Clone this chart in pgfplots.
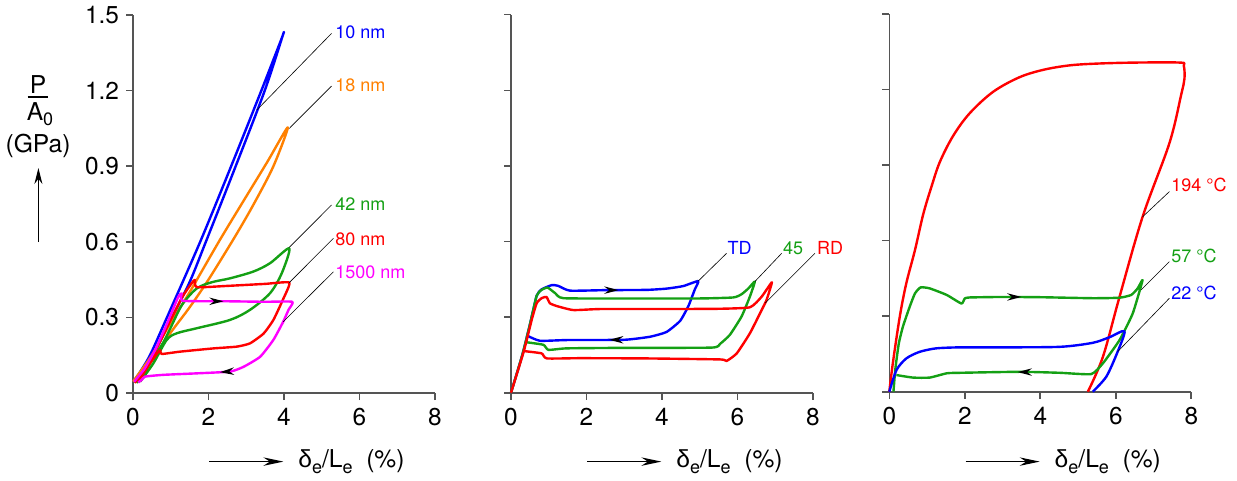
\documentclass[border=0pt]{standalone}
\usepackage{pgfplots}
\pgfplotsset{compat=1.18}
\usepackage{fontspec}
\setmainfont{TeX Gyre Heros}
\newfontfamily\grk{Liberation Sans}
\usetikzlibrary{arrows.meta}

\definecolor{cblue}{RGB}{0,0,255}
\definecolor{corange}{RGB}{255,128,0}
\definecolor{cgreen}{RGB}{20,160,20}
\definecolor{cred}{RGB}{255,0,0}
\definecolor{cmag}{RGB}{255,0,255}
\definecolor{axgray}{RGB}{85,85,85}

\tikzset{
 lbl/.style={anchor=west, inner sep=0pt, font=\fontsize{9}{10}\selectfont},
 ldr/.style={line width=0.3pt, black},
 arr/.style={-{Stealth[length=7pt,width=3.6pt,black]}},
}
\pgfplotsset{
 panel/.style={
   scale only axis, width=151pt, height=189pt,
   xmin=0,xmax=8,ymin=0,ymax=1.5,
   axis lines=left, axis line style={-, axgray, line width=0.8pt},
   xtick={0,2,4,6,8}, xticklabels={0,2,4,6,8},
   ytick={0,0.3,0.6,0.9,1.2,1.5},
   tick align=outside, major tick length=3.5pt,
   tick style={axgray, line width=0.8pt},
   tick label style={font=\fontsize{12.2}{14}\selectfont},
   xticklabel style={yshift=-0.5pt},
   clip=false, anchor=south west,
   every axis plot/.append style={line width=1.2pt, line join=round, mark=none, smooth, tension=0.3},
 },
}
\newcommand{\xlab}{{\grk δ}\raisebox{-0.4ex}{\fontsize{9}{9}\selectfont e}/L\raisebox{-0.4ex}{\fontsize{9}{9}\selectfont e}\ \ (\%)}

\begin{document}
\begin{tikzpicture}
% ---------------- left panel ----------------
\begin{axis}[panel, at={(66.5pt,-196.5pt)}, yticklabels={0,0.3,0.6,0.9,1.2,1.5}]
\addplot[cblue, tension=0.5] coordinates {(0.02,0.045)(0.3,0.095)(0.6,0.17)(1.0,0.29)(1.5,0.44)(1.93,0.6)(2.72,0.9)(3.49,1.2)(3.97,1.42)
 (3.92,1.40)(3.40,1.2)(2.60,0.9)(1.78,0.6)(0.9,0.3)(0.45,0.15)(0.15,0.075)(0.0,0.045)};
\addplot[corange, tension=0.5] coordinates {(0.0,0.045)(0.5,0.15)(1.0,0.28)(1.5,0.40)(2.3,0.607)(3.0,0.78)(3.55,0.915)(4.1,1.054)
 (3.72,0.9)(3.2,0.75)(2.7,0.62)(2.0,0.45)(1.5,0.34)(1.0,0.24)(0.5,0.13)(0.15,0.05)};
\addplot[cgreen, tension=0.5] coordinates {(0.1,0.04)(0.5,0.13)(0.8,0.2)(1.0,0.26)(1.3,0.35)(1.69,0.415)(2.1,0.44)(2.57,0.455)(3.19,0.482)(3.63,0.515)(4.14,0.574)
 (3.94,0.475)(3.63,0.396)(3.1,0.33)(2.57,0.29)(1.69,0.257)(1.16,0.237)(0.89,0.21)(0.54,0.118)(0.19,0.045)};
\addplot[cred] coordinates {(0.05,0.04)(0.5,0.14)(1.0,0.29)(1.3,0.38)(1.55,0.435)(1.64,0.449)(1.69,0.42)(2.5,0.425)(3.5,0.433)(4.14,0.438)
 (3.97,0.37)(3.72,0.29)(3.46,0.236)(3.1,0.197)(2.75,0.184)(2.13,0.177)(1.24,0.164)(0.76,0.155)(0.71,0.17)(0.45,0.118)(0.14,0.045)};
\addplot[cmag] coordinates {(0.03,0.045)(0.3,0.095)(0.6,0.175)(0.9,0.275)(1.2,0.382)(1.29,0.395)(1.32,0.366)(2.5,0.364)(3.5,0.362)(4.22,0.362)
 (4.12,0.33)(3.98,0.283)(3.72,0.211)(3.37,0.144)(2.93,0.104)(2.57,0.085)(1.69,0.078)(0.8,0.072)(0.32,0.065)(0.23,0.052)(0.14,0.042)};
\addplot[cmag, arr] coordinates {(1.95,0.364)(2.4,0.364)};
\addplot[cmag, arr] coordinates {(2.62,0.086)(2.3,0.0825)};
\draw[ldr] (axis cs:5.26,1.427) -- (axis cs:3.28,1.123);
\node[lbl, text=cblue] at (axis cs:5.35,1.43) {10 nm};
\draw[ldr] (axis cs:5.26,1.218) -- (axis cs:4.14,1.05);
\node[lbl, text=corange] at (axis cs:5.35,1.222) {18 nm};
\draw[ldr] (axis cs:5.26,0.746) -- (axis cs:4.14,0.578);
\node[lbl, text=cgreen] at (axis cs:5.35,0.75) {42 nm};
\draw[ldr] (axis cs:5.31,0.614) -- (axis cs:4.14,0.438);
\node[lbl, text=cred] at (axis cs:5.35,0.612) {80 nm};
\draw[ldr] (axis cs:5.31,0.481) -- (axis cs:3.98,0.283);
\node[lbl, text=cmag] at (axis cs:5.35,0.48) {1500 nm};
\end{axis}
% ---------------- middle panel ----------------
\begin{axis}[panel, at={(255.5pt,-196.35pt)}, yticklabels={}]
\addplot[cblue] coordinates {(0,0)(0.3,0.15)(0.5,0.27)(0.68,0.385)(0.81,0.41)(1.08,0.427)(1.25,0.424)(1.56,0.405)(2.5,0.407)(3.59,0.408)(4.12,0.413)(4.56,0.423)(4.96,0.443)
 (4.87,0.41)(4.70,0.344)(4.48,0.285)(4.12,0.241)(3.68,0.222)(3.0,0.21)(1.5,0.209)(0.77,0.206)(0.46,0.224)};
\addplot[cgreen] coordinates {(0,0)(0.3,0.15)(0.5,0.27)(0.68,0.385)(0.81,0.408)(0.97,0.417)(1.17,0.395)(1.39,0.375)(3,0.374)(5.0,0.374)(5.89,0.378)(6.11,0.391)(6.29,0.414)(6.46,0.441)
 (6.33,0.382)(6.11,0.303)(5.80,0.23)(5.54,0.194)(5.32,0.179)(3,0.178)(1.48,0.176)(0.99,0.17)(0.86,0.19)(0.42,0.2)};
\addplot[cred] coordinates {(0,0)(0.34,0.165)(0.55,0.29)(0.68,0.355)(0.81,0.375)(0.94,0.38)(1.03,0.355)(1.21,0.344)(1.65,0.328)(2.36,0.332)(4,0.332)(5.5,0.333)(6.33,0.339)(6.64,0.381)(6.91,0.438)
 (6.77,0.368)(6.64,0.328)(6.33,0.236)(5.98,0.156)(5.71,0.126)(5.54,0.132)(3.59,0.136)(1.83,0.137)(0.95,0.136)(0.81,0.156)(0.35,0.165)};
\addplot[cblue, arr] coordinates {(2.4,0.407)(2.85,0.407)};
\addplot[cblue, arr] coordinates {(3.1,0.21)(2.6,0.21)};
\draw[ldr] (axis cs:5.71,0.553) -- (axis cs:4.96,0.443);
\node[lbl, text=cblue] at (axis cs:5.73,0.575) {TD};
\draw[ldr] (axis cs:7.17,0.553) -- (axis cs:6.46,0.441);
\node[lbl, text=cgreen] at (axis cs:7.2,0.575) {45};
\draw[ldr] (axis cs:8.05,0.553) -- (axis cs:6.73,0.355);
\node[lbl, text=cred] at (axis cs:8.1,0.575) {RD};
\end{axis}
% ---------------- right panel ----------------
\begin{axis}[panel, at={(444.65pt,-195.85pt)}, yticklabels={}]
\addplot[cred, tension=0.55] coordinates {(0,0)(0.1,0.12)(0.28,0.3)(0.45,0.43)(0.68,0.562)(0.9,0.705)(1.12,0.815)(1.34,0.912)(1.69,1.015)(2.13,1.105)(2.75,1.19)(3.45,1.248)(4.1,1.278)(4.78,1.295)(5.5,1.302)(6.5,1.306)(7.7,1.306)
 (7.8,1.295)(7.82,1.243)(7.73,1.177)(7.42,0.986)(6.71,0.694)(6.10,0.377)(5.66,0.139)(5.26,0)};
\addplot[cgreen] coordinates {(0.11,0)(0.16,0.09)(0.25,0.19)(0.36,0.258)(0.54,0.337)(0.68,0.39)(0.83,0.414)(1.07,0.41)(1.52,0.384)(1.91,0.35)(2.0,0.37)(2.13,0.374)(3,0.376)(4,0.375)(5.39,0.371)(6.1,0.373)(6.41,0.384)(6.58,0.41)(6.71,0.443)
 (6.45,0.311)(6.10,0.205)(5.66,0.113)(5.35,0.07)(4.52,0.075)(3.46,0.079)(1.87,0.075)(1.52,0.073)(1.07,0.056)(0.63,0.056)(0.19,0.066)};
\addplot[cblue, tension=0.45] coordinates {(0,0)(0.19,0.086)(0.45,0.132)(0.8,0.158)(1.24,0.172)(1.87,0.176)(2.75,0.176)(4.51,0.178)(5.39,0.194)(5.83,0.216)(6.23,0.24)
 (6.05,0.159)(5.75,0.06)(5.39,0)};
\addplot[cgreen, arr] coordinates {(3.0,0.376)(3.5,0.376)};
\addplot[cgreen, arr] coordinates {(3.9,0.078)(3.4,0.078)};
\draw[ldr] (axis cs:7.42,0.794) -- (axis cs:6.71,0.694);
\node[lbl, text=cred] at (axis cs:7.46,0.82) {194 °C};
\draw[ldr] (axis cs:7.42,0.516) -- (axis cs:6.67,0.404);
\node[lbl, text=cgreen] at (axis cs:7.46,0.538) {57 °C};
\draw[ldr] (axis cs:7.42,0.371) -- (axis cs:6.05,0.159);
\node[lbl, text=cblue] at (axis cs:7.46,0.39) {22 °C};
\end{axis}
% ---------------- axis titles ----------------
\begin{scope}[font=\fontsize{12.3}{14}\selectfont]
\node at (19pt,-42.3pt) {P};
\draw[line width=0.55pt] (13.8pt,-48.5pt) -- (24.2pt,-48.5pt);
\node at (20pt,-57pt) {A\raisebox{-0.4ex}{\fontsize{9}{9}\selectfont 0}};
\node at (19pt,-73pt) {(GPa)};
\draw[-{Stealth[length=8pt,width=4pt]}, line width=0.55pt] (19.2pt,-121pt) -- (19.2pt,-84pt);
\foreach \dx in {0pt,189pt,378.15pt}{
  \draw[-{Stealth[length=10pt,width=4.2pt]}, line width=0.55pt] ([xshift=\dx]104.7pt,-230.8pt) -- ([xshift=\dx]141.7pt,-230.8pt);
  \node[anchor=west, inner sep=0pt] at ([xshift=\dx]149pt,-230.8pt) {\xlab};
}
\end{scope}
\pgfresetboundingbox
\path[use as bounding box] (0,0) rectangle (618.5pt,-240.5pt);
\end{tikzpicture}
\end{document}
